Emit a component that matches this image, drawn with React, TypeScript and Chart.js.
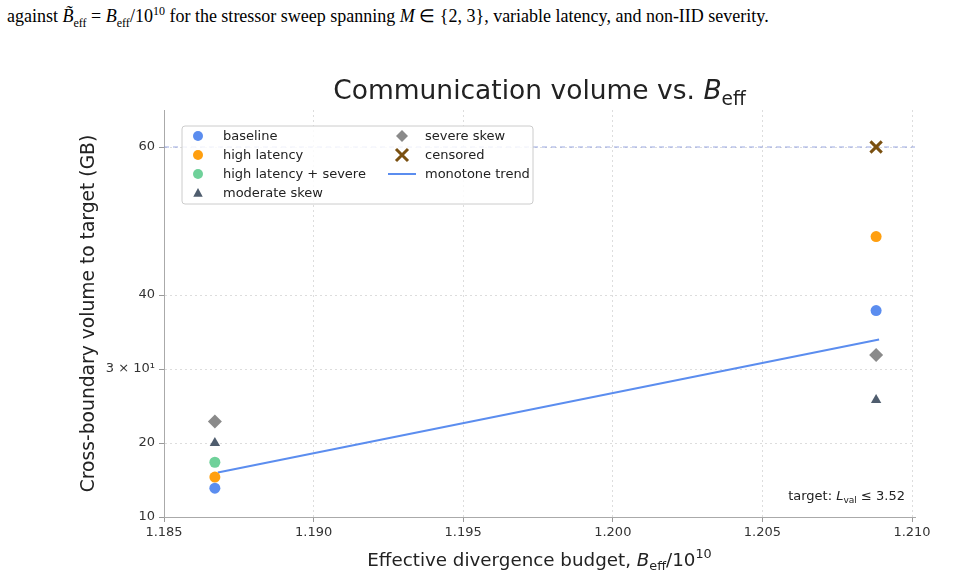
import React, { useEffect, useRef } from "react";
import { Chart, registerables } from "chart.js";

Chart.register(...registerables);

// ---- data ----
const xLevels = [1.1867, 1.2088];
const baseline = [13.9, 37.9];
const highLatency = [15.4, 47.9];
const highLatencySevere = [17.4];
const moderateSkew = [20.0, 25.8];
const severeSkew = [22.9, 31.9];
const censoredX = [1.2088];
const censoredY = [60];
const trendX = [1.1868, 1.2089];
const trendY = [16.0, 34.0];
const censorCap = 60;
const xRange = [1.185, 1.2101];
const yRange = [10, 65];
const xTicks = [1.185, 1.19, 1.195, 1.2, 1.205, 1.21];
const yTicks = [10, 20, 30, 40, 60];
const yTickLabels = ["10", "20", "3 × 10¹", "40", "60"];

const COL = {
  baseline: "#5b8def",
  high: "#ff9f0f",
  highSev: "#6fd19a",
  moderate: "#4f5d6e",
  severe: "#8a8a8a",
  censored: "#7a5010",
  trend: "#5b8def",
};

const FONT = "'DejaVu Sans', sans-serif";

type Seg = { t: string; it?: boolean; sub?: boolean; sup?: boolean };

function drawRich(ctx: CanvasRenderingContext2D, segs: Seg[], x: number, y: number, size: number, align: "center" | "left" | "right", color: string) {
  const fontFor = (s: Seg) => `${s.it ? "italic " : ""}${s.sub || s.sup ? size * 0.7 : size}px ${FONT}`;
  let total = 0;
  const widths = segs.map((s) => {
    ctx.font = fontFor(s);
    const w = ctx.measureText(s.t).width;
    total += w;
    return w;
  });
  let cx = align === "center" ? x - total / 2 : align === "right" ? x - total : x;
  ctx.fillStyle = color;
  ctx.textBaseline = "alphabetic";
  ctx.textAlign = "left";
  segs.forEach((s, i) => {
    ctx.font = fontFor(s);
    const dy = s.sub ? size * 0.22 : s.sup ? -size * 0.42 : 0;
    ctx.fillText(s.t, cx, y + dy);
    cx += widths[i];
  });
}

function drawMarker(ctx: CanvasRenderingContext2D, kind: string, x: number, y: number, r: number, color: string) {
  ctx.save();
  ctx.fillStyle = color;
  ctx.strokeStyle = color;
  ctx.beginPath();
  if (kind === "circle") {
    ctx.arc(x, y, r, 0, Math.PI * 2);
    ctx.fill();
  } else if (kind === "triangle") {
    ctx.moveTo(x, y - r);
    ctx.lineTo(x + r * 0.95, y + r * 0.75);
    ctx.lineTo(x - r * 0.95, y + r * 0.75);
    ctx.closePath();
    ctx.fill();
  } else if (kind === "diamond") {
    ctx.moveTo(x, y - r);
    ctx.lineTo(x + r, y);
    ctx.lineTo(x, y + r);
    ctx.lineTo(x - r, y);
    ctx.closePath();
    ctx.fill();
  } else if (kind === "x") {
    ctx.lineWidth = 3;
    ctx.moveTo(x - r, y - r);
    ctx.lineTo(x + r, y + r);
    ctx.moveTo(x + r, y - r);
    ctx.lineTo(x - r, y + r);
    ctx.stroke();
  } else if (kind === "line") {
    ctx.lineWidth = 2;
    ctx.moveTo(x - 14, y);
    ctx.lineTo(x + 14, y);
    ctx.stroke();
  }
  ctx.restore();
}

const decorPlugin = {
  id: "decor",
  afterDraw(chart: any) {
    const ctx: CanvasRenderingContext2D = chart.ctx;
    const a = chart.chartArea;
    const cx = (a.left + a.right) / 2;
    ctx.save();
    // title
    drawRich(ctx, [{ t: "Communication volume vs. " }, { t: "B", it: true }, { t: "eff", sub: true }], cx, 99, 26.5, "center", "#222");
    // x label
    drawRich(ctx, [{ t: "Effective divergence budget, " }, { t: "B", it: true }, { t: "eff", sub: true }, { t: "/10" }, { t: "10", sup: true }], cx, 566, 18.3, "center", "#222");
    // y label
    ctx.save();
    ctx.translate(94, (a.top + a.bottom) / 2);
    ctx.rotate(-Math.PI / 2);
    drawRich(ctx, [{ t: "Cross-boundary volume to target (GB)" }], 0, 0, 18.7, "center", "#222");
    ctx.restore();
    // annotation
    drawRich(ctx, [{ t: "target: " }, { t: "L", it: true }, { t: "val", sub: true }, { t: " ≤ 3.52" }], 905, 500, 13, "right", "#222");

    // legend
    const lx = 182, ly = 126, lw = 351, lh = 78;
    ctx.save();
    ctx.beginPath();
    const rr = 3;
    ctx.moveTo(lx + rr, ly);
    ctx.arcTo(lx + lw, ly, lx + lw, ly + lh, rr);
    ctx.arcTo(lx + lw, ly + lh, lx, ly + lh, rr);
    ctx.arcTo(lx, ly + lh, lx, ly, rr);
    ctx.arcTo(lx, ly, lx + lw, ly, rr);
    ctx.closePath();
    ctx.fillStyle = "rgba(255,255,255,0.85)";
    ctx.fill();
    ctx.strokeStyle = "#cccccc";
    ctx.lineWidth = 1;
    ctx.stroke();
    ctx.restore();

    const rows = [136, 155, 174, 193];
    const items1 = [
      { k: "circle", c: COL.baseline, t: "baseline", r: 5 },
      { k: "circle", c: COL.high, t: "high latency", r: 5 },
      { k: "circle", c: COL.highSev, t: "high latency + severe", r: 5 },
      { k: "triangle", c: COL.moderate, t: "moderate skew", r: 5 },
    ];
    const items2 = [
      { k: "diamond", c: COL.severe, t: "severe skew", r: 6 },
      { k: "x", c: COL.censored, t: "censored", r: 6 },
      { k: "line", c: COL.trend, t: "monotone trend", r: 0 },
    ];
    items1.forEach((it, i) => {
      drawMarker(ctx, it.k, 198, rows[i], it.r, it.c);
      ctx.fillStyle = "#222";
      ctx.font = `13px ${FONT}`;
      ctx.textAlign = "left";
      ctx.textBaseline = "middle";
      ctx.fillText(it.t, 223, rows[i] + 0.5);
    });
    items2.forEach((it, i) => {
      drawMarker(ctx, it.k, 402, rows[i], it.r, it.c);
      ctx.fillStyle = "#222";
      ctx.font = `13px ${FONT}`;
      ctx.textAlign = "left";
      ctx.textBaseline = "middle";
      ctx.fillText(it.t, 425, rows[i] + 0.5);
    });
    ctx.restore();
  },
};

export default function App() {
  const ref = useRef<HTMLCanvasElement | null>(null);
  useEffect(() => {
    if (!ref.current) return;
    const pt = (xs: number[], ys: number[]) => ys.map((y, i) => ({ x: xs[i], y }));
    const chart = new Chart(ref.current, {
      type: "scatter",
      data: {
        datasets: [
          {
            label: "cap",
            data: [{ x: xRange[0], y: censorCap }, { x: xRange[1], y: censorCap }],
            showLine: true,
            borderColor: "rgba(120,140,215,0.75)",
            borderWidth: 1,
            borderDash: [5, 4],
            pointRadius: 0,
            order: 10,
          } as any,
          {
            label: "monotone trend",
            data: pt(trendX, trendY),
            showLine: true,
            borderColor: COL.trend,
            borderWidth: 2,
            pointRadius: 0,
            order: 5,
          } as any,
          { label: "baseline", data: pt(xLevels, baseline), backgroundColor: COL.baseline, borderWidth: 0, pointRadius: 5.5, order: 1 },
          { label: "high latency", data: pt(xLevels, highLatency), backgroundColor: COL.high, borderWidth: 0, pointRadius: 5.5, order: 1 },
          { label: "high latency + severe", data: pt(xLevels, highLatencySevere), backgroundColor: COL.highSev, borderWidth: 0, pointRadius: 5.5, order: 1 },
          { label: "moderate skew", data: pt(xLevels, moderateSkew), backgroundColor: COL.moderate, borderWidth: 0, pointStyle: "triangle", pointRadius: 6, order: 1 },
          { label: "severe skew", data: pt(xLevels, severeSkew), backgroundColor: COL.severe, borderWidth: 0, pointStyle: "rectRot", pointRadius: 7, order: 1 },
          { label: "censored", data: pt(censoredX, censoredY), borderColor: COL.censored, backgroundColor: COL.censored, borderWidth: 3, pointStyle: "crossRot", pointRadius: 8, order: 0 },
        ],
      },
      options: {
        animation: false,
        responsive: false,
        maintainAspectRatio: false,
        layout: { padding: { top: 110, right: 51, bottom: 0, left: 0 } },
        plugins: { legend: { display: false }, tooltip: { enabled: false }, title: { display: false } },
        scales: {
          x: {
            type: "linear",
            min: xRange[0],
            max: xRange[1],
            afterBuildTicks: (s: any) => { s.ticks = xTicks.map((v) => ({ value: v })); },
            afterFit: (s: any) => { s.height = 60; },
            ticks: {
              callback: (v: any) => Number(v).toFixed(3),
              color: "#333",
              font: { family: FONT, size: 13 },
              padding: 3,
              maxRotation: 0,
            },
            grid: { color: "#dddddd", tickColor: "#999", tickLength: 5, lineWidth: 1 },
            border: { color: "#aaaaaa", width: 1, dash: [2, 3] },
          },
          y: {
            type: "linear",
            min: yRange[0],
            max: yRange[1],
            afterBuildTicks: (s: any) => { s.ticks = yTicks.map((v) => ({ value: v })); },
            afterFit: (s: any) => { s.width = 164; },
            ticks: {
              callback: (v: any) => {
                const i = yTicks.indexOf(Number(v));
                return i >= 0 ? yTickLabels[i] : "";
              },
              color: "#333",
              font: { family: FONT, size: 13 },
              padding: 4,
            },
            grid: { color: "#dddddd", tickColor: "#999", tickLength: 5, lineWidth: 1 },
            border: { color: "#aaaaaa", width: 1, dash: [2, 3] },
          },
        },
      },
      plugins: [decorPlugin],
    } as any);
    return () => chart.destroy();
  }, []);

  return (
    <div style={{ position: "fixed", left: 0, top: 0, width: 966, height: 577, background: "#fff" }}>
      <div
        style={{
          position: "absolute",
          left: 7,
          top: 0,
          fontFamily: "'Liberation Serif', 'Times New Roman', serif",
          fontSize: 18,
          color: "#000",
          whiteSpace: "nowrap",
          lineHeight: "22px",
        }}
      >
        against <i>B̃</i><sub style={{ fontSize: 12 }}>eff</sub> = <i>B</i><sub style={{ fontSize: 12 }}>eff</sub>/10<sup style={{ fontSize: 12 }}>10</sup> for the stressor sweep spanning <i>M</i> ∈ {"{"}2, 3{"}"}, variable latency, and non-IID severity.
      </div>
      <canvas ref={ref} width={966} height={577} style={{ position: "absolute", left: 0, top: 0, width: 966, height: 577 }} />
    </div>
  );
}
